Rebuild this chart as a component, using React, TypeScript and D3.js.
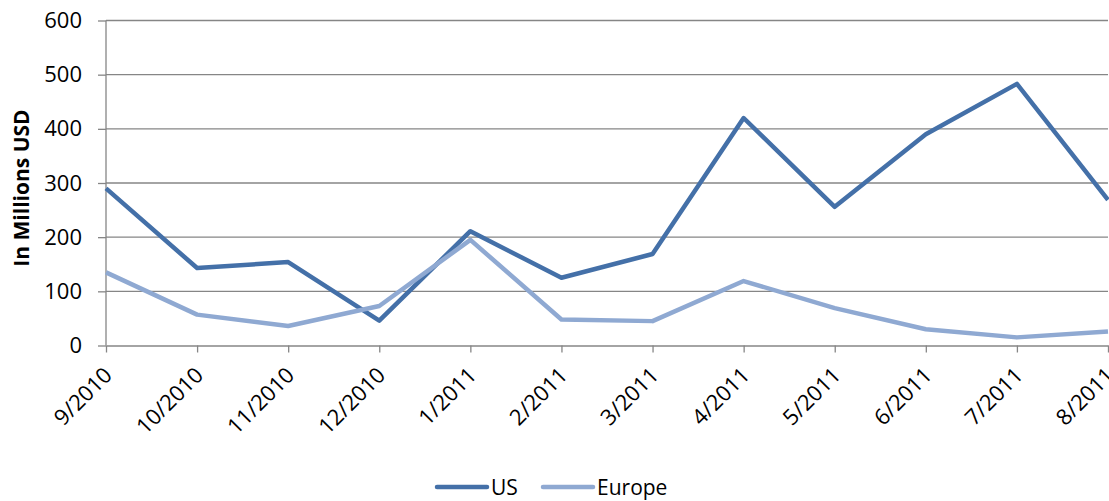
import React, { useEffect, useRef } from 'react';
import * as d3 from 'd3';

const months = ['9/2010', '10/2010', '11/2010', '12/2010', '1/2011', '2/2011', '3/2011', '4/2011', '5/2011', '6/2011', '7/2011', '8/2011'];
const usValues = [290, 143, 154, 46, 211, 125, 169, 420, 256, 390, 483, 269];
const europeValues = [135, 57, 36, 73, 195, 48, 45, 119, 69, 30, 15, 26];
const yTicks = [0, 100, 200, 300, 400, 500, 600];

const series = [
  { name: 'US', values: usValues, color: '#4470A8' },
  { name: 'Europe', values: europeValues, color: '#8FA9D2' },
];

export default function App() {
  const svgRef = useRef<SVGSVGElement>(null);

  useEffect(() => {
    if (!svgRef.current) return;
    const svg = d3.select(svgRef.current);
    svg.selectAll('*').remove();

    const width = 1109;
    const height = 501;
    const margin = { top: 20.5, right: 1, bottom: 155.5, left: 106 };
    const innerW = width - margin.left - margin.right;
    const innerH = height - margin.top - margin.bottom;
    const font = "'Open Sans', sans-serif";
    const gray = '#868686';

    const g = svg.append('g').attr('transform', `translate(${margin.left},${margin.top})`);

    const x = d3.scalePoint<string>().domain(months).range([0, innerW]);
    const y = d3.scaleLinear().domain([0, 600]).range([innerH, 0]);

    // gridlines
    g.selectAll('.grid')
      .data(yTicks.filter(t => t > 0))
      .enter()
      .append('line')
      .attr('x1', 0)
      .attr('x2', innerW)
      .attr('y1', d => y(d))
      .attr('y2', d => y(d))
      .style('stroke', gray)
      .style('stroke-width', 1.3);

    // y axis
    const yAxis = g.append('g')
      .call(d3.axisLeft(y).tickValues(yTicks).tickSize(8).tickPadding(16));
    yAxis.select('.domain').style('stroke', gray).style('stroke-width', 1.3).attr('d', `M0,${innerH}V0`);
    yAxis.selectAll('.tick line').style('stroke', gray).style('stroke-width', 1.3);
    yAxis.selectAll('.tick text')
      .style('font-family', font)
      .style('font-size', '22px')
      .style('fill', '#000');

    // x axis
    const xAxis = g.append('g')
      .attr('transform', `translate(0,${innerH})`)
      .call(d3.axisBottom(x).tickSize(7).tickSizeOuter(0));
    xAxis.select('.domain').style('stroke', gray).style('stroke-width', 1.3);
    xAxis.selectAll('.tick line').style('stroke', gray).style('stroke-width', 1.3);
    xAxis.selectAll('.tick text')
      .attr('y', 0)
      .attr('dy', 0)
      .attr('transform', 'translate(7,31) rotate(-45)')
      .style('text-anchor', 'end')
      .style('font-family', font)
      .style('font-size', '22px')
      .style('fill', '#000');

    // y title
    svg.append('text')
      .attr('transform', `translate(29,188) rotate(-90)`)
      .style('text-anchor', 'middle')
      .style('font-family', font)
      .style('font-weight', 'bold')
      .style('font-size', '21px')
      .style('fill', '#000')
      .text('In Millions USD');

    // lines
    const line = d3.line<number>()
      .x((_, i) => x(months[i]) as number)
      .y(d => y(d));

    series.forEach(s => {
      g.append('path')
        .datum(s.values)
        .attr('d', line)
        .style('fill', 'none')
        .style('stroke', s.color)
        .style('stroke-width', 4.5)
        .style('stroke-linejoin', 'round');
    });

    // legend
    const legend = svg.append('g').attr('transform', 'translate(437,487)');
    const legendPos = [0, 106];
    series.forEach((s, i) => {
      const item = legend.append('g').attr('transform', `translate(${legendPos[i]},0)`);
      item.append('line')
        .attr('x1', 0)
        .attr('x2', 50)
        .style('stroke', s.color)
        .style('stroke-width', 4.5)
        .style('stroke-linecap', 'round');
      item.append('text')
        .attr('x', 54)
        .attr('y', 8)
        .style('font-family', font)
        .style('font-size', '21px')
        .style('fill', '#000')
        .text(s.name);
    });
  }, []);

  return (
    <svg
      ref={svgRef}
      width={1109}
      height={501}
      style={{ position: 'absolute', left: 0, top: 0, background: '#fff' }}
    />
  );
}
